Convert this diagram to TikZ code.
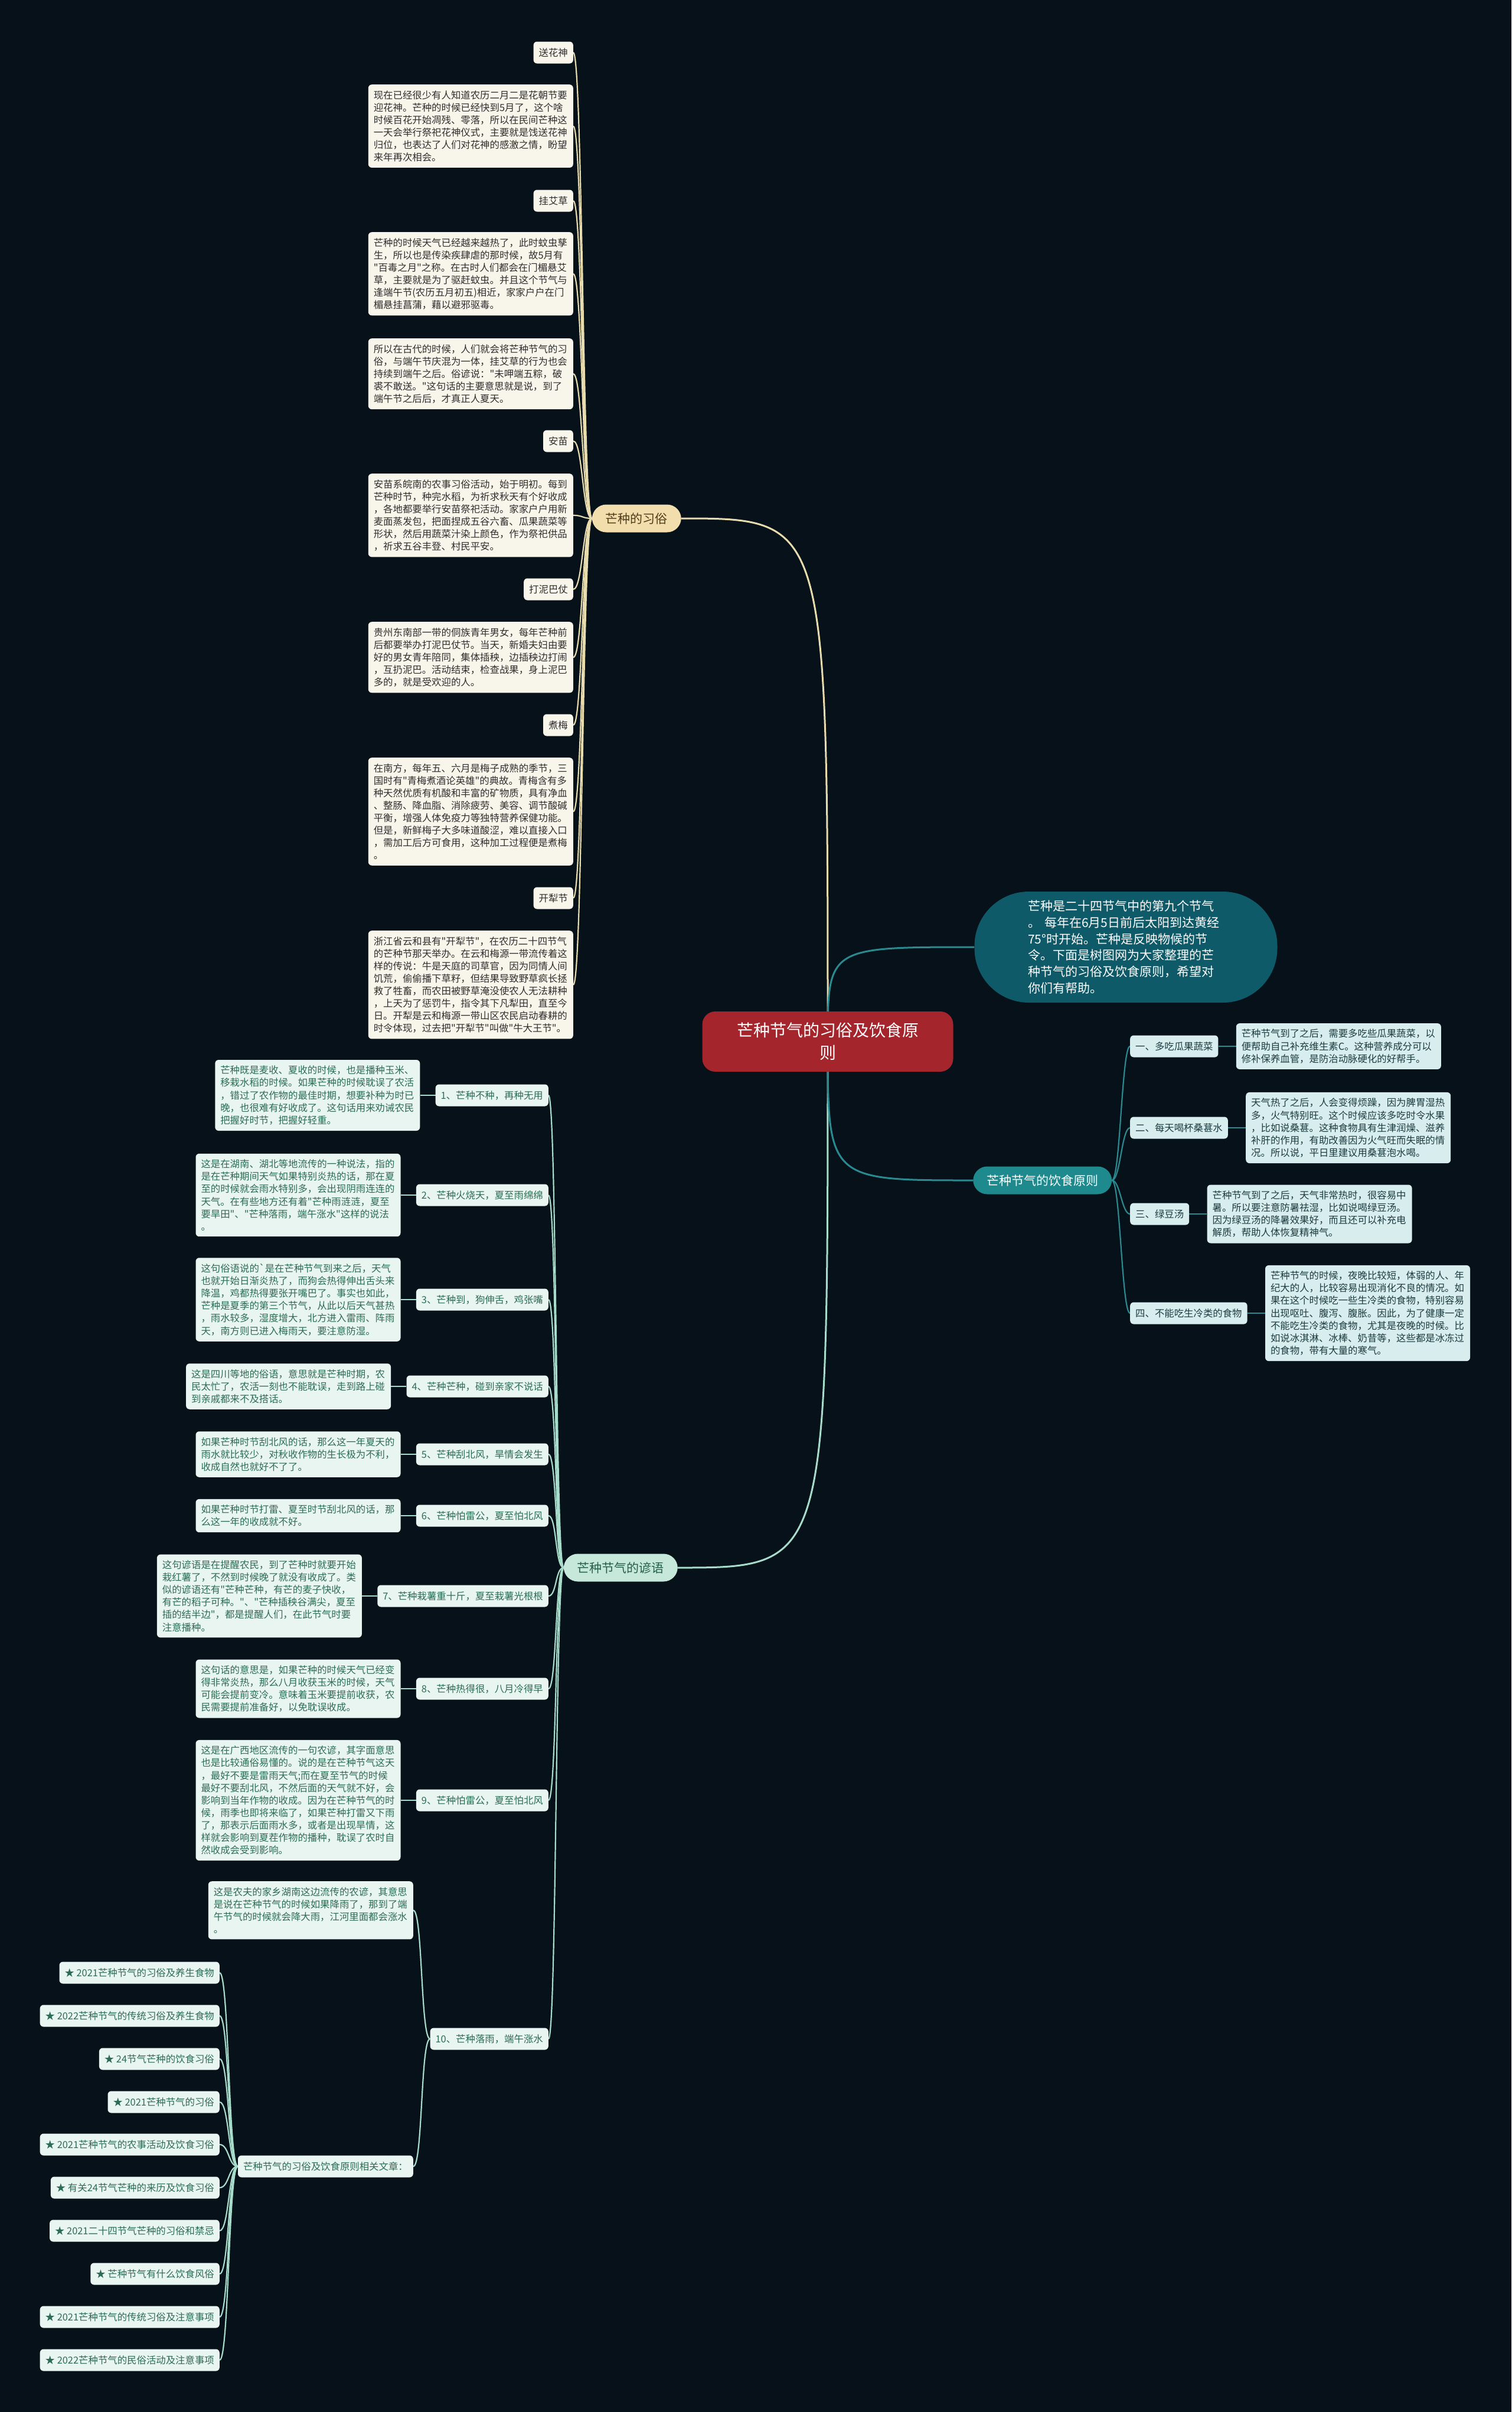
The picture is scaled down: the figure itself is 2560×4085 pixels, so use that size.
\documentclass[tikz,border=0pt]{standalone}
\usepackage{fontspec}
\newfontfamily\cjk{Noto Sans CJK SC}
\usetikzlibrary{calc}
\pgfdeclarelayer{back}
\pgfdeclarelayer{lines}
\pgfsetlayers{back,lines,main}
\definecolor{bgc}{HTML}{06111A}
\definecolor{rootc}{HTML}{A4262C}
\definecolor{introc}{HTML}{0F5A68}
\definecolor{foodc}{HTML}{1F8A8E}
\definecolor{foodleaf}{HTML}{D8EDED}
\definecolor{foodtxt}{HTML}{1C3B3F}
\definecolor{foodln}{HTML}{2A8A90}
\definecolor{cusc}{HTML}{F2DEAC}
\definecolor{custxt}{HTML}{4D3D1C}
\definecolor{cusleaf}{HTML}{F8F5EA}
\definecolor{cusleaftxt}{HTML}{2E2E2E}
\definecolor{cusln}{HTML}{E8DCAE}
\definecolor{sayc}{HTML}{C6E8DA}
\definecolor{saytxt}{HTML}{245E4A}
\definecolor{sayleaf}{HTML}{E8F5F0}
\definecolor{sayleaftxt}{HTML}{2C6C55}
\definecolor{sayln}{HTML}{A6DCC9}
\tikzset{
  x=1pt, y=-1pt,
  small/.style={font=\cjk\fontsize{16.4}{21.1}\selectfont, rounded corners=6pt, inner xsep=9pt},
  tagbox/.style={small, minimum height=37pt, inner ysep=0pt},
  parbox/.style={small, inner ysep=10pt, text width=329pt, align=left},
  custag/.style={tagbox, fill=cusleaf, text=cusleaftxt},
  cuspar/.style={parbox, fill=cusleaf, text=cusleaftxt},
  saytag/.style={tagbox, fill=sayleaf, text=sayleaftxt},
  saypar/.style={parbox, fill=sayleaf, text=sayleaftxt},
  foodtag/.style={tagbox, fill=foodleaf, text=foodtxt},
  foodpar/.style={parbox, fill=foodleaf, text=foodtxt},
  branchbox/.style={font=\cjk\fontsize{21}{26}\selectfont, rounded corners=24pt, minimum height=47pt, inner xsep=23pt, inner ysep=0pt},
  cusln/.style={draw=cusln, line width=2.2pt},
  sayln/.style={draw=sayln, line width=2.2pt},
  foodln/.style={draw=foodln, line width=2.2pt},
}
\begin{document}
\begin{tikzpicture}
\begin{pgfonlayer}{back}
\fill[bgc] (0,0) rectangle (2560,4085);
\end{pgfonlayer}
\useasboundingbox (0,0) rectangle (2560,4085);

% ---------- root and main branches ----------
\node[fill=rootc, text=white, rounded corners=22pt, minimum width=425pt, minimum height=102pt,
      font=\cjk\fontsize{28}{38}\selectfont, align=center] (root) at (1402,1764)
      {芒种节气的习俗及饮食原\\则};
\node[fill=introc, text=white, rounded corners=92pt, minimum width=513pt, minimum height=188pt,
      text width=332pt, align=left, font=\cjk\fontsize{21}{27.9}\selectfont] (intro) at (1907,1604)
      {芒种是二十四节气中的第九个节气\\。 每年在6月5日前后太阳到达黄经\\75°时开始。芒种是反映物候的节\\令。下面是树图网为大家整理的芒\\种节气的习俗及饮食原则，希望对\\你们有帮助。};
\node[branchbox, fill=foodc, text=white, anchor=west] (food) at (1648,1999) {芒种节气的饮食原则};
\node[branchbox, fill=cusc, text=custxt, anchor=east] (cus) at (1154,878) {芒种的习俗};
\node[branchbox, fill=sayc, text=saytxt, anchor=east] (say) at (1148,2655) {芒种节气的谚语};

% ---------- customs ----------
\node[custag, anchor=east] (ct1) at (971,89) {送花神};
\node[cuspar, anchor=north east] (cp1) at (971,143) {现在已经很少有人知道农历二月二是花朝节要\\迎花神。芒种的时候已经快到5月了，这个啥\\时候百花开始凋残、零落，所以在民间芒种这\\一天会举行祭祀花神仪式，主要就是饯送花神\\归位，也表达了人们对花神的感激之情，盼望\\来年再次相会。};
\node[custag, anchor=east] (ct2) at (971,340) {挂艾草};
\node[cuspar, anchor=north east] (cp2) at (971,393) {芒种的时候天气已经越来越热了，此时蚊虫孳\\生，所以也是传染疾肆虐的那时候，故5月有\\"百毒之月"之称。在古时人们都会在门楣悬艾\\草，主要就是为了驱赶蚊虫。并且这个节气与\\逢端午节(农历五月初五)相近，家家户户在门\\楣悬挂菖蒲，藉以避邪驱毒。};
\node[cuspar, anchor=north east] (cp3) at (971,573) {所以在古代的时候，人们就会将芒种节气的习\\俗，与端午节庆混为一体，挂艾草的行为也会\\持续到端午之后。俗谚说："未呷端五粽，破\\裘不敢送。"这句话的主要意思就是说，到了\\端午节之后后，才真正人夏天。};
\node[custag, anchor=east] (ct3) at (971,747) {安苗};
\node[cuspar, anchor=north east] (cp4) at (971,802) {安苗系皖南的农事习俗活动，始于明初。每到\\芒种时节，种完水稻，为祈求秋天有个好收成\\，各地都要举行安苗祭祀活动。家家户户用新\\麦面蒸发包，把面捏成五谷六畜、瓜果蔬菜等\\形状，然后用蔬菜汁染上颜色，作为祭祀供品\\，祈求五谷丰登、村民平安。};
\node[custag, anchor=east] (ct4) at (971,998) {打泥巴仗};
\node[cuspar, anchor=north east] (cp5) at (971,1053) {贵州东南部一带的侗族青年男女，每年芒种前\\后都要举办打泥巴仗节。当天，新婚夫妇由要\\好的男女青年陪同，集体插秧，边插秧边打闹\\，互扔泥巴。活动结束，检查战果，身上泥巴\\多的，就是受欢迎的人。};
\node[custag, anchor=east] (ct5) at (971,1228) {煮梅};
\node[cuspar, anchor=north east] (cp6) at (971,1283) {在南方，每年五、六月是梅子成熟的季节，三\\国时有"青梅煮酒论英雄"的典故。青梅含有多\\种天然优质有机酸和丰富的矿物质，具有净血\\、整肠、降血脂、消除疲劳、美容、调节酸碱\\平衡，增强人体免疫力等独特营养保健功能。\\但是，新鲜梅子大多味道酸涩，难以直接入口\\，需加工后方可食用，这种加工过程便是煮梅\\。};
\node[custag, anchor=east] (ct6) at (971,1521) {开犁节};
\node[cuspar, anchor=north east] (cp7) at (971,1576) {浙江省云和县有"开犁节"，在农历二十四节气\\的芒种节那天举办。在云和梅源一带流传着这\\样的传说：牛是天庭的司草官，因为同情人间\\饥荒，偷偷播下草籽，但结果导致野草疯长拯\\救了牲畜，而农田被野草淹没使农人无法耕种\\，上天为了惩罚牛，指令其下凡犁田，直至今\\日。开犁是云和梅源一带山区农民启动春耕的\\时令体现，过去把"开犁节"叫做"牛大王节"。};

% ---------- food ----------
\node[foodtag, anchor=west] (f1) at (1914,1772) {一、多吃瓜果蔬菜};
\node[foodtag, anchor=west] (f2) at (1914,1910) {二、每天喝杯桑葚水};
\node[foodtag, anchor=west] (f3) at (1914,2056) {三、绿豆汤};
\node[foodtag, anchor=west] (f4) at (1914,2224) {四、不能吃生冷类的食物};
\node[foodpar, anchor=west] (f1p) at ([xshift=30pt]f1.east) {芒种节气到了之后，需要多吃些瓜果蔬菜，以\\便帮助自己补充维生素C。这种营养成分可以\\修补保养血管，是防治动脉硬化的好帮手。};
\node[foodpar, anchor=west] (f2p) at ([xshift=30pt]f2.east) {天气热了之后，人会变得烦躁，因为脾胃湿热\\多，火气特别旺。这个时候应该多吃时令水果\\，比如说桑葚。这种食物具有生津润燥、滋养\\补肝的作用，有助改善因为火气旺而失眠的情\\况。所以说，平日里建议用桑葚泡水喝。};
\node[foodpar, anchor=west] (f3p) at ([xshift=30pt]f3.east) {芒种节气到了之后，天气非常热时，很容易中\\暑。所以要注意防暑祛湿，比如说喝绿豆汤。\\因为绿豆汤的降暑效果好，而且还可以补充电\\解质，帮助人体恢复精神气。};
\node[foodpar, anchor=west] (f4p) at ([xshift=30pt]f4.east) {芒种节气的时候，夜晚比较短，体弱的人、年\\纪大的人，比较容易出现消化不良的情况。如\\果在这个时候吃一些生冷类的食物，特别容易\\出现呕吐、腹泻、腹胀。因此，为了健康一定\\不能吃生冷类的食物，尤其是夜晚的时候。比\\如说冰淇淋、冰棒、奶昔等，这些都是冰冻过\\的食物，带有大量的寒气。};

% ---------- sayings ----------
\node[saytag, anchor=east] (s1) at (929,1855) {1、芒种不种，再种无用};
\node[saytag, anchor=east] (s2) at (929,2024) {2、芒种火烧天，夏至雨绵绵};
\node[saytag, anchor=east] (s3) at (929,2201) {3、芒种到，狗伸舌，鸡张嘴};
\node[saytag, anchor=east] (s4) at (929,2348) {4、芒种芒种，碰到亲家不说话};
\node[saytag, anchor=east] (s5) at (929,2463) {5、芒种刮北风，旱情会发生};
\node[saytag, anchor=east] (s6) at (929,2567) {6、芒种怕雷公，夏至怕北风};
\node[saytag, anchor=east] (s7) at (929,2703) {7、芒种栽薯重十斤，夏至栽薯光根根};
\node[saytag, anchor=east] (s8) at (929,2860) {8、芒种热得很，八月冷得早};
\node[saytag, anchor=east] (s9) at (929,3049) {9、芒种怕雷公，夏至怕北风};
\node[saytag, anchor=east] (s10) at (929,3453) {10、芒种落雨，端午涨水};

\node[saypar, anchor=east] (s1p) at ([xshift=-26pt]s1.west) {芒种既是麦收、夏收的时候，也是播种玉米、\\移栽水稻的时候。如果芒种的时候耽误了农活\\，错过了农作物的最佳时期，想要补种为时已\\晚，也很难有好收成了。这句话用来劝诫农民\\把握好时节，把握好轻重。};
\node[saypar, anchor=east] (s2p) at ([xshift=-26pt]s2.west) {这是在湖南、湖北等地流传的一种说法，指的\\是在芒种期间天气如果特别炎热的话，那在夏\\至的时候就会雨水特别多，会出现阴雨连连的\\天气。在有些地方还有着"芒种雨涟涟，夏至\\要旱田"、"芒种落雨，端午涨水"这样的说法\\。};
\node[saypar, anchor=east] (s3p) at ([xshift=-26pt]s3.west) {这句俗语说的`是在芒种节气到来之后，天气\\也就开始日渐炎热了，而狗会热得伸出舌头来\\降温，鸡都热得要张开嘴巴了。事实也如此，\\芒种是夏季的第三个节气，从此以后天气甚热\\，雨水较多，湿度增大，北方进入雷雨、阵雨\\天，南方则已进入梅雨天，要注意防湿。};
\node[saypar, anchor=east] (s4p) at ([xshift=-26pt]s4.west) {这是四川等地的俗语，意思就是芒种时期，农\\民太忙了，农活一刻也不能耽误，走到路上碰\\到亲戚都来不及搭话。};
\node[saypar, anchor=east] (s5p) at ([xshift=-26pt]s5.west) {如果芒种时节刮北风的话，那么这一年夏天的\\雨水就比较少，对秋收作物的生长极为不利，\\收成自然也就好不了了。};
\node[saypar, anchor=east] (s6p) at ([xshift=-26pt]s6.west) {如果芒种时节打雷、夏至时节刮北风的话，那\\么这一年的收成就不好。};
\node[saypar, anchor=east] (s7p) at ([xshift=-26pt]s7.west) {这句谚语是在提醒农民，到了芒种时就要开始\\栽红薯了，不然到时候晚了就没有收成了。类\\似的谚语还有"芒种芒种，有芒的麦子快收，\\有芒的稻子可种。"、"芒种插秧谷满尖，夏至\\插的结半边"，都是提醒人们，在此节气时要\\注意播种。};
\node[saypar, anchor=east] (s8p) at ([xshift=-26pt]s8.west) {这句话的意思是，如果芒种的时候天气已经变\\得非常炎热，那么八月收获玉米的时候，天气\\可能会提前变冷。意味着玉米要提前收获，农\\民需要提前准备好，以免耽误收成。};
\node[saypar, anchor=east] (s9p) at ([xshift=-26pt]s9.west) {这是在广西地区流传的一句农谚，其字面意思\\也是比较通俗易懂的。说的是在芒种节气这天\\，最好不要是雷雨天气;而在夏至节气的时候\\最好不要刮北风，不然后面的天气就不好，会\\影响到当年作物的收成。因为在芒种节气的时\\候，雨季也即将来临了，如果芒种打雷又下雨\\了，那表示后面雨水多，或者是出现旱情，这\\样就会影响到夏茬作物的播种，耽误了农时自\\然收成会受到影响。};
\node[saypar, anchor=north east] (s10p) at (700,3186) {这是农夫的家乡湖南这边流传的农谚，其意思\\是说在芒种节气的时候如果降雨了，那到了端\\午节气的时候就会降大雨，江河里面都会涨水\\。};
\node[saytag, anchor=east] (rel) at (700,3669) {芒种节气的习俗及饮食原则相关文章：};

\node[saytag, anchor=east] (a1) at (372,3341) {★ 2021芒种节气的习俗及养生食物};
\node[saytag, anchor=east] (a2) at (372,3414) {★ 2022芒种节气的传统习俗及养生食物};
\node[saytag, anchor=east] (a3) at (372,3487) {★ 24节气芒种的饮食习俗};
\node[saytag, anchor=east] (a4) at (372,3560) {★ 2021芒种节气的习俗};
\node[saytag, anchor=east] (a5) at (372,3632) {★ 2021芒种节气的农事活动及饮食习俗};
\node[saytag, anchor=east] (a6) at (372,3705) {★ 有关24节气芒种的来历及饮食习俗};
\node[saytag, anchor=east] (a7) at (372,3778) {★ 2021二十四节气芒种的习俗和禁忌};
\node[saytag, anchor=east] (a8) at (372,3851) {★ 芒种节气有什么饮食风俗};
\node[saytag, anchor=east] (a9) at (372,3924) {★ 2021芒种节气的传统习俗及注意事项};
\node[saytag, anchor=east] (a10) at (372,3997) {★ 2022芒种节气的民俗活动及注意事项};

% ---------- connectors ----------
\begin{pgfonlayer}{lines}
\draw[cusln, line width=3pt] (root.center) .. controls (1402,878) .. (cus.east);
\draw[sayln, line width=3pt] (root.center) .. controls (1402,2655) .. (say.east);
\draw[foodln, line width=3pt] (root.center) .. controls (1402,1604) .. (intro.west);
\draw[foodln, line width=3pt] (root.center) .. controls (1402,1999) .. (food.west);

\foreach \n in {ct1,cp1,ct2,cp2,cp3,ct3,cp4,ct4,cp5,ct5,cp6,ct6,cp7}
  \draw[cusln] (cus.west) .. controls +(-16,0) and +(16,0) .. (\n.east);
\foreach \n in {f1,f2,f3,f4}{
  \draw[foodln] (food.east) .. controls +(14,0) and +(-14,0) .. (\n.west);
  \draw[foodln] (\n.east) -- (\n p.west);
}
\foreach \n in {s1,s2,s3,s4,s5,s6,s7,s8,s9,s10}
  \draw[sayln] (say.west) .. controls +(-14,0) and +(14,0) .. (\n.east);
\foreach \n in {s1,s2,s3,s4,s5,s6,s7,s8,s9}
  \draw[sayln] (\n p.east) -- (\n.west);
\draw[sayln] (s10.west) .. controls +(-16,0) and +(16,0) .. (s10p.east);
\draw[sayln] (s10.west) .. controls +(-16,0) and +(16,0) .. (rel.east);
\foreach \n in {a1,a2,a3,a4,a5,a6,a7,a8,a9,a10}
  \draw[sayln] (rel.west) .. controls +(-16,0) and +(16,0) .. (\n.east);
\end{pgfonlayer}
\end{tikzpicture}
\end{document}
